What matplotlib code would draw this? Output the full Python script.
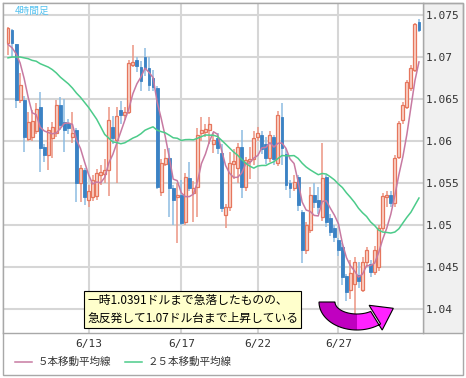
import numpy as np
import pandas as pd
import matplotlib
matplotlib.use('Agg')
import matplotlib.pyplot as plt
import matplotlib.transforms as mtrans
from matplotlib.patches import Rectangle, Polygon
from matplotlib.lines import Line2D

plt.rcParams['font.family'] = ['Noto Sans CJK JP', 'DejaVu Sans']

# 4-hour candles
opens = [1.0717, 1.0732, 1.0715, 1.0649, 1.0649, 1.0602, 1.0605, 1.0612, 1.0640, 1.0593,
         1.0583, 1.0604, 1.0610, 1.0643, 1.0623, 1.0622, 1.0605, 1.0613, 1.0550, 1.0565,
         1.0530, 1.0533, 1.0535, 1.0560, 1.0561, 1.0565, 1.0617, 1.0601, 1.0637, 1.0631,
         1.0634, 1.0691, 1.0696, 1.0688, 1.0700, 1.0687, 1.0675, 1.0663, 1.0539, 1.0573,
         1.0580, 1.0544, 1.0533, 1.0536, 1.0504, 1.0556, 1.0538, 1.0545, 1.0609, 1.0611,
         1.0613, 1.0597, 1.0603, 1.0586, 1.0512, 1.0522, 1.0573, 1.0568, 1.0593, 1.0545,
         1.0576, 1.0578, 1.0605, 1.0607, 1.0597, 1.0580, 1.0605, 1.0574, 1.0629, 1.0585,
         1.0550, 1.0544, 1.0557, 1.0516, 1.0470, 1.0494, 1.0536, 1.0530, 1.0510, 1.0557,
         1.0508, 1.0496, 1.0482, 1.0474, 1.0439, 1.0423, 1.0430, 1.0440, 1.0423, 1.0456,
         1.0453, 1.0444, 1.0450, 1.0496, 1.0533, 1.0536, 1.0526, 1.0581, 1.0625, 1.0640,
         1.0663, 1.0685, 1.0742]
highs = [1.0736, 1.0733, 1.0716, 1.0681, 1.0653, 1.0635, 1.0637, 1.0645, 1.0658, 1.0597,
         1.0617, 1.0623, 1.0649, 1.0652, 1.0650, 1.0626, 1.0635, 1.0616, 1.0571, 1.0568,
         1.0548, 1.0560, 1.0567, 1.0572, 1.0578, 1.0640, 1.0630, 1.0640, 1.0648, 1.0640,
         1.0697, 1.0714, 1.0700, 1.0695, 1.0711, 1.0700, 1.0685, 1.0666, 1.0578, 1.0590,
         1.0592, 1.0548, 1.0550, 1.0553, 1.0562, 1.0575, 1.0552, 1.0615, 1.0628, 1.0620,
         1.0628, 1.0610, 1.0610, 1.0597, 1.0525, 1.0587, 1.0590, 1.0598, 1.0613, 1.0581,
         1.0593, 1.0612, 1.0617, 1.0612, 1.0605, 1.0612, 1.0607, 1.0636, 1.0645, 1.0590,
         1.0553, 1.0560, 1.0559, 1.0518, 1.0504, 1.0545, 1.0550, 1.0545, 1.0598, 1.0560,
         1.0513, 1.0500, 1.0485, 1.0478, 1.0442, 1.0458, 1.0462, 1.0456, 1.0462, 1.0474,
         1.0458, 1.0475, 1.0500, 1.0538, 1.0540, 1.0540, 1.0583, 1.0624, 1.0646, 1.0673,
         1.0690, 1.0741, 1.0745]
lows = [1.0702, 1.0700, 1.0639, 1.0645, 1.0587, 1.0600, 1.0600, 1.0608, 1.0563, 1.0575,
        1.0565, 1.0580, 1.0605, 1.0613, 1.0587, 1.0608, 1.0598, 1.0527, 1.0527, 1.0524,
        1.0522, 1.0528, 1.0530, 1.0548, 1.0550, 1.0534, 1.0597, 1.0550, 1.0620, 1.0625,
        1.0632, 1.0688, 1.0682, 1.0660, 1.0677, 1.0660, 1.0660, 1.0543, 1.0535, 1.0570,
        1.0510, 1.0500, 1.0479, 1.0500, 1.0500, 1.0540, 1.0504, 1.0510, 1.0600, 1.0605,
        1.0597, 1.0586, 1.0585, 1.0515, 1.0496, 1.0517, 1.0555, 1.0550, 1.0532, 1.0540,
        1.0555, 1.0572, 1.0600, 1.0585, 1.0573, 1.0575, 1.0572, 1.0570, 1.0572, 1.0542,
        1.0532, 1.0540, 1.0517, 1.0455, 1.0466, 1.0490, 1.0520, 1.0513, 1.0505, 1.0498,
        1.0487, 1.0480, 1.0463, 1.0428, 1.0410, 1.0412, 1.0391, 1.0425, 1.0420, 1.0450,
        1.0438, 1.0440, 1.0445, 1.0493, 1.0522, 1.0522, 1.0522, 1.0578, 1.0620, 1.0638,
        1.0660, 1.0682, 1.0730]
closes = [1.0735, 1.0717, 1.0649, 1.0667, 1.0605, 1.0623, 1.0624, 1.0638, 1.0592, 1.0583,
          1.0613, 1.0617, 1.0643, 1.0619, 1.0613, 1.0615, 1.0609, 1.0550, 1.0568, 1.0533,
          1.0540, 1.0553, 1.0562, 1.0563, 1.0565, 1.0625, 1.0604, 1.0630, 1.0631, 1.0634,
          1.0693, 1.0694, 1.0689, 1.0671, 1.0687, 1.0667, 1.0664, 1.0545, 1.0574, 1.0580,
          1.0544, 1.0530, 1.0536, 1.0502, 1.0557, 1.0544, 1.0544, 1.0607, 1.0613, 1.0614,
          1.0620, 1.0601, 1.0592, 1.0520, 1.0521, 1.0574, 1.0576, 1.0593, 1.0545, 1.0577,
          1.0579, 1.0604, 1.0609, 1.0590, 1.0580, 1.0607, 1.0578, 1.0631, 1.0592, 1.0548,
          1.0544, 1.0551, 1.0524, 1.0470, 1.0500, 1.0536, 1.0527, 1.0521, 1.0556, 1.0504,
          1.0492, 1.0486, 1.0470, 1.0438, 1.0420, 1.0443, 1.0456, 1.0433, 1.0456, 1.0470,
          1.0444, 1.0470, 1.0496, 1.0535, 1.0536, 1.0526, 1.0580, 1.0621, 1.0643, 1.0670,
          1.0687, 1.0739, 1.0732]

# moving averages at the left edge (their warm-up bars are off-chart)
ma5_head = [1.0715, 1.0711, 1.0704, 1.0693]
ma25_head = [1.0699, 1.0700, 1.0700, 1.0700, 1.0699, 1.0698, 1.0696, 1.0695, 1.0692, 1.0690,
             1.0688, 1.0685, 1.0681, 1.0676, 1.0672, 1.0668, 1.0663, 1.0657, 1.0652, 1.0646,
             1.0640, 1.0633, 1.0626, 1.0617]

date_pos = [20, 43, 62, 82]
date_labels = ['6/13', '6/17', '6/22', '6/27']
price_ticks = [1.04, 1.045, 1.05, 1.055, 1.06, 1.065, 1.07, 1.075]
price_labels = ['1.04', '1.045', '1.05', '1.055', '1.06', '1.065', '1.07', '1.075']

legend_labels = ['５本移動平均線', '２５本移動平均線']
note = '一時1.0391ドルまで急落したものの、\n急反発して1.07ドル台まで上昇している'

W, H = 466, 378
fig = plt.figure(figsize=(W / 100, H / 100), dpi=100)
px = mtrans.Affine2D().scale(1 / W, -1 / H).translate(0, 1) + fig.transFigure

# frame and right label panel (behind the axes so tick labels stay on top)
fig.patches.append(Rectangle((423, 3), 40, 330, transform=px, facecolor='#f0f0f0',
                             edgecolor='#a8a8a8', lw=1, zorder=-2))
fig.patches.append(Rectangle((3, 3), 460, 372, transform=px, facecolor='none',
                             edgecolor='#a8a8a8', lw=1, zorder=-2))

ax = fig.add_axes([3 / W, (H - 333) / H, 420 / W, 330 / H])
o = np.array(opens)
h = np.array(highs)
l = np.array(lows)
c = np.array(closes)
x = np.arange(len(c))
up = c >= o
dn = ~up

up_edge, up_face, up_wick = '#e6765d', '#fad3c8', '#ec9583'
dn_body, dn_wick = '#3b82c4', '#8dbce2'

ax.vlines(x[up], l[up], h[up], color=up_wick, lw=1.1, zorder=2)
ax.vlines(x[dn], l[dn], h[dn], color=dn_wick, lw=1.1, zorder=2)
body_w = 0.72
ax.bar(x[up], np.maximum(c[up] - o[up], 0.00006), bottom=o[up], width=body_w,
       color=up_face, edgecolor=up_edge, lw=0.9, zorder=3)
ax.bar(x[dn], np.maximum(o[dn] - c[dn], 0.00006), bottom=c[dn], width=body_w,
       color=dn_body, edgecolor=dn_body, lw=0.6, zorder=3)

s = pd.Series(closes)
ma5 = s.rolling(5).mean().to_numpy()
ma5[:len(ma5_head)] = ma5_head
ma25 = s.rolling(25).mean().to_numpy()
ma25[:len(ma25_head)] = ma25_head
ax.plot(x, ma5, color='#c77aa2', lw=1.1, zorder=4)
ax.plot(x, ma25, color='#4ccb8a', lw=1.1, zorder=4)

ax.set_xlim(-1.24, 103.0)
ax.set_ylim(1.03714, 1.07643)
ax.yaxis.tick_right()
ax.set_yticks(price_ticks)
ax.set_yticklabels(price_labels, fontfamily='DejaVu Sans Mono')
ax.set_xticks(date_pos)
ax.set_xticklabels(date_labels, fontfamily='DejaVu Sans Mono')
ax.tick_params(axis='y', length=0, pad=2.2, labelsize=8, labelcolor='#333333')
ax.tick_params(axis='x', length=0, pad=4.5, labelsize=8, labelcolor='#333333')
ax.grid(True, color='#d6d6d6', lw=1.5)
ax.set_axisbelow(True)
for sp in ax.spines.values():
    sp.set_color('#a8a8a8')
    sp.set_linewidth(1)

ax.text(15, 11, '4時間足', transform=px, color='#55c2f0', fontsize=7, va='center')

# note box
fig.text(87 / W, 1 - 309.5 / H, note, fontsize=8.5, color='black', va='center', ha='left',
         linespacing=1.45,
         bbox=dict(boxstyle='square,pad=0.28', fc='#ffffcc', ec='black', lw=0.8))

# U-turn arrow
cx, cy, a, b, w = 357, 302, 30, 20, 8
t_mid = 1.5 * np.pi
t_end = 2 * np.pi - 0.9


def band(t0, t1):
    t = np.linspace(t0, t1, 40)
    outer = np.c_[cx + (a + w) * np.cos(t), cy - (b + w) * np.sin(t)]
    inner = np.c_[cx + (a - w) * np.cos(t), cy - (b - w) * np.sin(t)]
    return outer, inner


pc = np.array([cx + a * np.cos(t_end), cy - b * np.sin(t_end)])
tan = np.array([-a * np.sin(t_end), -b * np.cos(t_end)])
tan = tan / np.hypot(*tan)
perp = np.array([-tan[1], tan[0]])
head = np.array([pc - 14 * perp, pc + 20 * tan, pc + 14 * perp])

o1, i1 = band(np.pi, t_mid + 0.02)
fig.patches.append(Polygon(np.vstack([o1, i1[::-1]]), closed=True, transform=px,
                           facecolor='#c000c0', edgecolor='none', zorder=5))
o2, i2 = band(t_mid, t_end)
fig.patches.append(Polygon(np.vstack([o2, head, i2[::-1]]), closed=True, transform=px,
                           facecolor='#ff22ff', edgecolor='none', zorder=5))
oa, ia = band(np.pi, t_end)
fig.patches.append(Polygon(np.vstack([oa, head, ia[::-1]]), closed=True, transform=px,
                           facecolor='none', edgecolor='black', lw=0.8, zorder=6))

# legend
ma_colors = ['#c77aa2', '#4ccb8a']
for (x0, x1, tx), lab, col in zip([(15, 32, 38), (125, 142, 148)], legend_labels, ma_colors):
    fig.add_artist(Line2D([x0, x1], [362, 362], transform=px, color=col, lw=1.1))
    fig.text(tx / W, 1 - 362 / H, lab, fontsize=7.6, color='#333333', va='center', ha='left')

fig.savefig('out.png', dpi=100)
